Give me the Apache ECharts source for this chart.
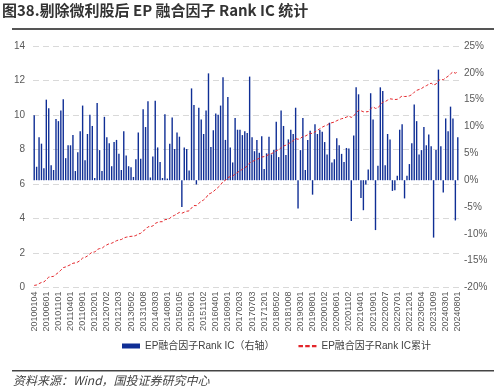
<!DOCTYPE html>
<html><head><meta charset="utf-8">
<script src="https://cdn.jsdelivr.net/npm/echarts@6/dist/echarts.min.js"></script>
<style>html,body{margin:0;padding:0;background:#fff}#c{width:494px;height:388px}</style>
</head><body><div id="c"></div>
<script>
// Tick labels on the x axis (every 5th month)
const tickLabels = ['20100104','20100601','20101101','20110401','20110901','20120201','20120702','20121203','20130502','20131008','20140303','20140801','20150105','20150601','20151102','20160401','20160901','20170203','20170703','20171201','20180502','20181008','20190301','20190801','20200102','20200601','20201102','20210401','20210901','20220207','20220701','20221201','20230504','20231009','20240301','20240801'];
// Monthly Rank IC (%)
const rankIC = [
12.1,2.5,8.0,6.8,2.2,15.0,13.4,2.8,1.9,11.4,11.0,13.0,15.1,4.1,6.5,6.5,8.4,1.7,5.2,9.1,13.9,3.7,8.6,12.2,10.1,0.4,14.4,5.6,1.7,
11.8,8.0,6.9,2.6,7.1,7.5,4.9,1.9,9.1,4.6,2.6,2.4,0.6,3.9,8.9,4.0,13.2,9.9,14.7,0.5,4.4,14.8,6.1,3.4,0.4,12.3,0.3,6.8,11.7,5.8,
8.9,8.1,-5.0,6.1,5.8,1.8,17.1,14.0,-0.8,13.5,11.3,8.6,13.0,19.9,6.2,9.3,12.4,12.2,13.9,19.2,7.5,15.5,6.1,3.3,11.6,9.4,9.4,8.4,9.1,8.8,
19.3,8.0,5.4,7.5,5.1,8.2,2.1,5.0,8.1,4.8,5.6,10.9,4.3,13.0,10.1,4.7,7.6,9.4,8.6,13.5,-5.3,5.6,11.6,1.9,7.5,9.2,-2.7,10.4,8.6,9.4,
9.0,7.1,4.8,10.7,3.3,3.9,7.8,6.5,4.9,3.4,6.0,5.9,-7.6,8.3,17.3,16.0,-3.3,-5.6,-0.8,2.0,16.2,11.3,-9.3,2.7,17.3,16.6,2.8,8.6,7.6,-2.0,
-1.9,0.8,9.4,10.4,-3.4,0.8,3.0,6.9,14.1,11.0,4.8,5.6,9.9,6.5,8.5,6.3,-10.7,5.6,20.6,6.3,-2.3,11.5,9.1,13.7,11.5,-7.5,8.0
];
const seriesNames = ['EP融合因子Rank IC（右轴）','EP融合因子Rank IC累计'];

// Monthly categories 2010-01 .. 2024-08; labelled months use the exact tick dates
const categories = [];
for (let k = 0; k < rankIC.length; k++) {
  const y = 2010 + Math.floor(k / 12), m = k % 12 + 1;
  categories.push(k % 5 === 0 ? tickLabels[k / 5] : String(y) + String(m).padStart(2, '0') + '01');
}
// Cumulative Rank IC (the "累计" line)
const cumIC = [];
let s = 0;
for (const v of rankIC) { s += v / 100; cumIC.push(+s.toFixed(4)); }

const chart = echarts.init(document.getElementById('c'));
const axisFont = {fontFamily: 'Liberation Sans, Arial, sans-serif', fontSize: 10, color: '#595959'};
chart.setOption({
  animation: false,
  textStyle: {fontFamily: 'Liberation Sans, Noto Sans CJK SC, sans-serif'},
  graphic: [
    {type: 'text', left: 2, top: 3, style: {text: '图38.剔除微利股后 EP 融合因子 Rank IC 统计', font: 'bold 15px "Noto Sans CJK SC", sans-serif', fill: '#333'}},
    {type: 'rect', shape: {x: 12, y: 28, width: 482, height: 2}, style: {fill: '#555'}},
    {type: 'rect', shape: {x: 12, y: 370, width: 482, height: 1.5}, style: {fill: '#444'}},
    {type: 'text', left: 13, top: 374, style: {text: '资料来源：Wind，国投证券研究中心', font: 'italic 12px "Noto Sans CJK SC", sans-serif', fill: '#444'}}
  ],
  grid: {left: 33, right: 35, top: 46, bottom: 100.5},
  legend: {
    top: 336, left: 117, itemGap: 24, itemWidth: 18, itemHeight: 5,
    textStyle: {fontSize: 10, color: '#404040', fontFamily: 'Liberation Sans, Noto Sans CJK SC, sans-serif'},
    data: [
      {name: seriesNames[0], icon: 'rect'},
      {name: seriesNames[1], icon: 'path://M0,0h4v2h-4zM6,0h4v2h-4zM12,0h4v2h-4z', itemWidth: 16, itemHeight: 2}
    ]
  },
  xAxis: {
    type: 'category', data: categories, boundaryGap: true,
    axisLine: {show: false}, axisTick: {show: false},
    axisLabel: Object.assign({rotate: 90, interval: 4, margin: 4}, axisFont, {fontSize: 9})
  },
  yAxis: [
    {type: 'value', min: 0, max: 14, interval: 2, position: 'left',
     axisLine: {show: false}, axisTick: {show: false},
     axisLabel: Object.assign({margin: 8}, axisFont),
     splitLine: {show: true, lineStyle: {color: '#d9d9d9', type: [6, 4], width: 1}}},
    {type: 'value', min: -20, max: 25, interval: 5, position: 'right',
     axisLine: {show: false}, axisTick: {show: false},
     axisLabel: Object.assign({margin: 5, formatter: '{value}%'}, axisFont),
     splitLine: {show: false}}
  ],
  series: [
    {name: seriesNames[0], type: 'bar', yAxisIndex: 1, data: rankIC, barWidth: 1.4,
     itemStyle: {color: '#0f2e95'}},
    {name: seriesNames[1], type: 'line', yAxisIndex: 0, data: cumIC, symbol: 'none',
     lineStyle: {color: '#e3262b', width: 1, type: [3, 2]}, itemStyle: {color: '#e3262b'}}
  ]
});
</script></body></html>
